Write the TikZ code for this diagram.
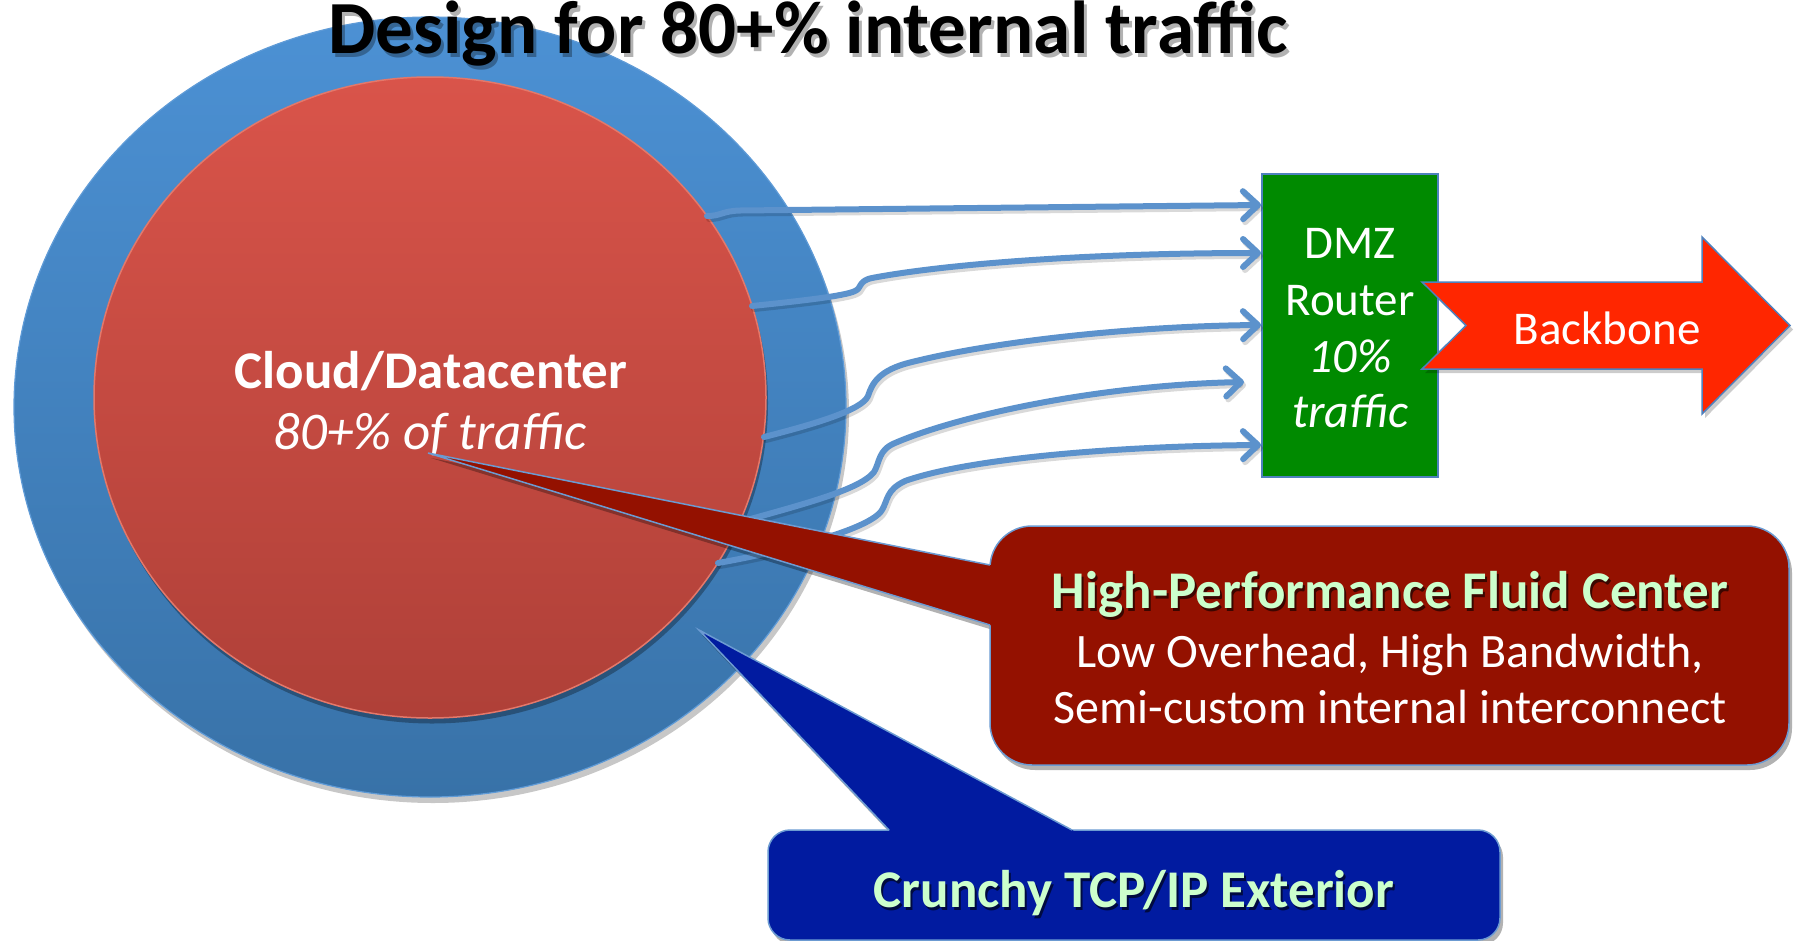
\documentclass[tikz,border=0pt]{standalone}
\usepackage{fontspec}
\setmainfont{Carlito}
\usetikzlibrary{shapes.geometric,arrows.meta}
\definecolor{ringtop}{RGB}{76,145,212}
\definecolor{ringbot}{RGB}{56,114,168}
\definecolor{coretop}{RGB}{217,84,74}
\definecolor{corebot}{RGB}{175,64,56}
\definecolor{coreline}{RGB}{228,120,106}
\definecolor{ringline}{RGB}{95,155,215}
\definecolor{flow}{RGB}{92,146,204}
\definecolor{dmzgreen}{RGB}{0,138,0}
\definecolor{edgeblue}{RGB}{79,129,189}
\definecolor{bbred}{RGB}{255,38,0}
\definecolor{maroonbox}{RGB}{148,17,0}
\definecolor{navybox}{RGB}{1,27,160}
\definecolor{mint}{RGB}{204,255,204}
\definecolor{calloutline}{RGB}{108,155,210}
\begin{document}
\begin{tikzpicture}[x=1pt,y=-1pt,
  shadowfill/.style={fill=black,opacity=0.22},
  flowshadow/.style={draw=black,opacity=0.15,line width=6pt,line cap=round,line join=round,
    -{Straight Barb[round,length=15pt,width=28pt]}},
  flowline/.style={draw=flow,line width=6pt,line cap=round,line join=round,
    -{Straight Barb[round,length=15pt,width=28pt]}},
  bigtext/.style={font=\fontsize{47}{57}\selectfont,text=white,anchor=base,inner sep=0pt},
  boldtext/.style={font=\bfseries\fontsize{53}{60}\selectfont,anchor=base,inner sep=0pt},
  plaintext/.style={font=\fontsize{48}{57}\selectfont,text=white,anchor=base,inner sep=0pt},
  titletext/.style={font=\bfseries\fontsize{75}{80}\selectfont,anchor=base,inner sep=0pt}]
\useasboundingbox (0,0) rectangle (1798,940);

% outer ring
\node[ellipse,shadowfill,minimum width=832pt,minimum height=780pt,inner sep=0pt] (ringshadow) at (433,413) {};
\node[ellipse,minimum width=832pt,minimum height=780pt,inner sep=0pt,
  top color=ringtop,bottom color=ringbot,draw=ringline,line width=1.2pt] (ring) at (430,407) {};
% core
\node[ellipse,fill=black,opacity=0.3,minimum width=672pt,minimum height=641pt,inner sep=0pt] (coreshadow) at (432,403) {};
\node[ellipse,minimum width=672pt,minimum height=641pt,inner sep=0pt,
  top color=coretop,bottom color=corebot,draw=coreline,line width=1.5pt] (core) at (430,397.5) {};

% title
\node[titletext,text=black,opacity=0.3] (titleshadow) at (811,57) {Design for 80+\% internal traffic};
\node[titletext,text=black] (title) at (808,53) {Design for 80+\% internal traffic};

% core labels
\node[boldtext,text=white] (cloud) at (431,388) {Cloud/Datacenter};
\node[font=\itshape\fontsize{53}{60}\selectfont,text=white,anchor=base,inner sep=0pt] (share) at (430,449) {80+\% of traffic};

% DMZ router
\node[draw=edgeblue,line width=1.5pt,fill=dmzgreen,minimum width=176pt,minimum height=303pt,inner sep=0pt] (dmz) at (1350,325.5) {};
\node[bigtext] (dmz1) at (1350,258) {DMZ};
\node[bigtext] (dmz2) at (1350,315) {Router};
\node[bigtext,font=\itshape\fontsize{48}{57}\selectfont] (dmz3) at (1350,372) {10\%};
\node[bigtext,font=\itshape\fontsize{48}{57}\selectfont] (dmz4) at (1350,427) {traffic};

% flow arrows
\coordinate (s1) at (707,216);  \coordinate (e1) at (1261,205);
\coordinate (s2) at (752,306);  \coordinate (e2) at (1261,253);
\coordinate (s3) at (764,437);  \coordinate (e3) at (1261,325);
\coordinate (s4) at (740,522);  \coordinate (e4) at (1244,382);
\coordinate (s5) at (718,563);  \coordinate (e5) at (1261,445);
\begin{scope}[transform canvas={shift={(2pt,-3pt)}}]
\draw[flowshadow] (s1) .. controls (721,216) and (722,211) .. (740,210.5) -- (e1);
\draw[flowshadow] (s2) .. controls (800,301) and (845,296) .. (855,291)
  .. controls (862,288) and (858,281) .. (872,278)
  .. controls (940,265) and (1080,253) .. (e2);
\draw[flowshadow] (s3) .. controls (815,424) and (862,410) .. (868,396)
  .. controls (872,384) and (878,370) .. (912,362)
  .. controls (1000,340) and (1140,326) .. (e3);
\draw[flowshadow] (s4) .. controls (800,505) and (860,490) .. (874,472)
  .. controls (880,462) and (878,450) .. (895,443)
  .. controls (960,415) and (1100,385) .. (e4);
\draw[flowshadow] (s5) .. controls (780,552) and (870,530) .. (882,510)
  .. controls (888,500) and (886,490) .. (905,481)
  .. controls (970,458) and (1120,446) .. (e5);
\end{scope}
\draw[flowline] (s1) .. controls (721,216) and (722,211) .. (740,210.5) -- (e1);
\draw[flowline] (s2) .. controls (800,301) and (845,296) .. (855,291)
  .. controls (862,288) and (858,281) .. (872,278)
  .. controls (940,265) and (1080,253) .. (e2);
\draw[flowline] (s3) .. controls (815,424) and (862,410) .. (868,396)
  .. controls (872,384) and (878,370) .. (912,362)
  .. controls (1000,340) and (1140,326) .. (e3);
\draw[flowline] (s4) .. controls (800,505) and (860,490) .. (874,472)
  .. controls (880,462) and (878,450) .. (895,443)
  .. controls (960,415) and (1100,385) .. (e4);
\draw[flowline] (s5) .. controls (780,552) and (870,530) .. (882,510)
  .. controls (888,500) and (886,490) .. (905,481)
  .. controls (970,458) and (1120,446) .. (e5);

% backbone arrow
\fill[black,opacity=0.2] (1425,286) -- (1705,286) -- (1705,241) -- (1793,329.5) -- (1705,418) -- (1705,373) -- (1425,373) -- (1469,329.5) -- cycle;
\draw[fill=bbred,draw=edgeblue,line width=1.5pt,line join=miter] (1422,282) -- (1702,282) -- (1702,237) -- (1790,325.5) -- (1702,414) -- (1702,369) -- (1422,369) -- (1466,325.5) -- cycle;
\node[bigtext] (backbone) at (1607,344) {Backbone};

% high-performance callout
\fill[black,opacity=0.3] (993,570) -- (431,458) -- (993,630) -- cycle;
\node[fill=black,opacity=0.3,rounded corners=42pt,minimum width=799pt,minimum height=239pt,inner sep=0pt] (hpshadow) at (1392.5,650.5) {};
\node[draw=calloutline,line width=1.5pt,fill=maroonbox,rounded corners=42pt,minimum width=799pt,minimum height=239pt,inner sep=0pt] (hpc) at (1389.5,645.5) {};
\fill[maroonbox] (990,565) -- (428,453) -- (990,625) -- (1000,628) -- (1000,567) -- cycle;
\draw[calloutline,line width=1.5pt] (990,565) -- (428,453) -- (990,625);
\node[boldtext,text=black,opacity=0.6] (hp1s) at (1392,611) {High-Performance Fluid Center};
\node[boldtext,text=mint] (hp1) at (1390,608) {High-Performance Fluid Center};
\node[plaintext] (hp2) at (1390,667) {Low Overhead, High Bandwidth,};
\node[plaintext] (hp3) at (1390,723) {Semi-custom internal interconnect};

% crunchy callout
\fill[black,opacity=0.3] (892,835) -- (702,635) -- (1075,835) -- cycle;
\node[fill=black,opacity=0.3,rounded corners=22pt,minimum width=732pt,minimum height=110pt,inner sep=0pt] (tcpshadow) at (1137,890) {};
\node[draw=calloutline,line width=1.5pt,fill=navybox,rounded corners=22pt,minimum width=732pt,minimum height=110pt,inner sep=0pt] (tcp) at (1134,885) {};
\fill[navybox] (889,830) -- (699,630) -- (1072,830) -- (1090.6,840) -- (898.5,840) -- cycle;
\draw[calloutline,line width=1.5pt] (889,830) -- (699,630) -- (1072,830);
\node[boldtext,text=black,opacity=0.6] (tcptexts) at (1136,910) {Crunchy TCP/IP Exterior};
\node[boldtext,text=mint] (tcptext) at (1134,907) {Crunchy TCP/IP Exterior};
\end{tikzpicture}
\end{document}
